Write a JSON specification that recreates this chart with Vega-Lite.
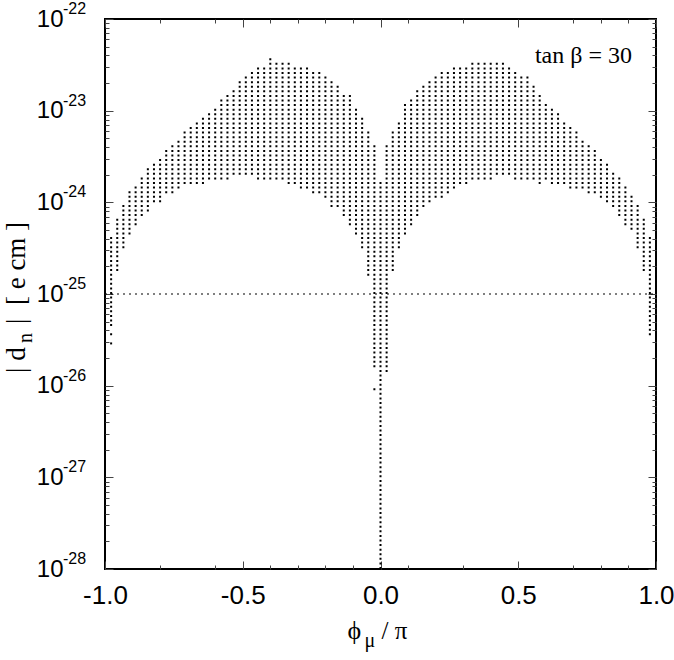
{
  "$schema": "https://vega.github.io/schema/vega-lite/v6.json",
  "width": 551,
  "height": 550,
  "autosize": "none",
  "padding": {"left": 105, "top": 19, "right": 18, "bottom": 91},
  "background": "white",
  "config": {
    "view": {"stroke": "black", "strokeWidth": 2},
    "axis": {"grid": false, "domain": false, "tickColor": "#444", "tickWidth": 1, "labelColor": "black"}
  },
  "datasets": {
    "cols": [
      {"x": -0.977778, "lo": 4.46684e-26, "hi": 3.98107e-25},
      {"x": -0.977778, "lo": 3.54813e-26, "hi": 3.54813e-26},
      {"x": -0.977778, "lo": 2.81838e-26, "hi": 2.81838e-26},
      {"x": -0.955556, "lo": 1.77828e-25, "hi": 6.30957e-25},
      {"x": -0.933333, "lo": 3.16228e-25, "hi": 8.91251e-25},
      {"x": -0.911111, "lo": 4.46684e-25, "hi": 1.25893e-24},
      {"x": -0.888889, "lo": 5.62341e-25, "hi": 1.41254e-24},
      {"x": -0.866667, "lo": 7.07946e-25, "hi": 1.77828e-24},
      {"x": -0.844444, "lo": 7.94328e-25, "hi": 2.23872e-24},
      {"x": -0.822222, "lo": 1e-24, "hi": 2.51189e-24},
      {"x": -0.8, "lo": 1e-24, "hi": 2.81838e-24},
      {"x": -0.777778, "lo": 1.25893e-24, "hi": 3.54813e-24},
      {"x": -0.755556, "lo": 1.25893e-24, "hi": 3.98107e-24},
      {"x": -0.733333, "lo": 1.41254e-24, "hi": 4.46684e-24},
      {"x": -0.711111, "lo": 1.58489e-24, "hi": 5.62341e-24},
      {"x": -0.688889, "lo": 1.58489e-24, "hi": 6.30957e-24},
      {"x": -0.666667, "lo": 1.58489e-24, "hi": 7.07946e-24},
      {"x": -0.644444, "lo": 1.58489e-24, "hi": 7.94328e-24},
      {"x": -0.622222, "lo": 1.77828e-24, "hi": 8.91251e-24},
      {"x": -0.6, "lo": 1.77828e-24, "hi": 1e-23},
      {"x": -0.577778, "lo": 1.77828e-24, "hi": 1.25893e-23},
      {"x": -0.555556, "lo": 1.77828e-24, "hi": 1.41254e-23},
      {"x": -0.533333, "lo": 1.99526e-24, "hi": 1.58489e-23},
      {"x": -0.511111, "lo": 1.99526e-24, "hi": 1.99526e-23},
      {"x": -0.488889, "lo": 1.99526e-24, "hi": 2.23872e-23},
      {"x": -0.466667, "lo": 1.99526e-24, "hi": 2.51189e-23},
      {"x": -0.444444, "lo": 1.77828e-24, "hi": 2.81838e-23},
      {"x": -0.422222, "lo": 1.77828e-24, "hi": 2.81838e-23},
      {"x": -0.4, "lo": 1.77828e-24, "hi": 3.54813e-23},
      {"x": -0.377778, "lo": 1.77828e-24, "hi": 3.16228e-23},
      {"x": -0.355556, "lo": 1.77828e-24, "hi": 3.16228e-23},
      {"x": -0.333333, "lo": 1.58489e-24, "hi": 3.16228e-23},
      {"x": -0.311111, "lo": 1.58489e-24, "hi": 2.81838e-23},
      {"x": -0.288889, "lo": 1.41254e-24, "hi": 2.81838e-23},
      {"x": -0.266667, "lo": 1.41254e-24, "hi": 2.81838e-23},
      {"x": -0.244444, "lo": 1.25893e-24, "hi": 2.51189e-23},
      {"x": -0.222222, "lo": 1.25893e-24, "hi": 2.51189e-23},
      {"x": -0.2, "lo": 1.12202e-24, "hi": 2.23872e-23},
      {"x": -0.177778, "lo": 8.91251e-25, "hi": 1.99526e-23},
      {"x": -0.155556, "lo": 8.91251e-25, "hi": 1.77828e-23},
      {"x": -0.133333, "lo": 7.07946e-25, "hi": 1.41254e-23},
      {"x": -0.111111, "lo": 5.62341e-25, "hi": 1.41254e-23},
      {"x": -0.088889, "lo": 4.46684e-25, "hi": 1e-23},
      {"x": -0.066667, "lo": 3.16228e-25, "hi": 7.94328e-24},
      {"x": -0.044444, "lo": 1.58489e-25, "hi": 5.62341e-24},
      {"x": -0.022222, "lo": 1.58489e-26, "hi": 3.98107e-24},
      {"x": -0.022222, "lo": 8.91251e-27, "hi": 8.91251e-27},
      {"x": 0, "lo": 1e-28, "hi": 1.58489e-24},
      {"x": 0.022222, "lo": 1.41254e-26, "hi": 3.98107e-24},
      {"x": 0.044444, "lo": 1.77828e-25, "hi": 5.62341e-24},
      {"x": 0.066667, "lo": 3.16228e-25, "hi": 7.07946e-24},
      {"x": 0.088889, "lo": 4.46684e-25, "hi": 1.12202e-23},
      {"x": 0.111111, "lo": 5.62341e-25, "hi": 1.25893e-23},
      {"x": 0.133333, "lo": 7.07946e-25, "hi": 1.58489e-23},
      {"x": 0.155556, "lo": 8.91251e-25, "hi": 1.77828e-23},
      {"x": 0.177778, "lo": 1e-24, "hi": 1.99526e-23},
      {"x": 0.2, "lo": 1.12202e-24, "hi": 2.23872e-23},
      {"x": 0.222222, "lo": 1.12202e-24, "hi": 2.51189e-23},
      {"x": 0.244444, "lo": 1.25893e-24, "hi": 2.51189e-23},
      {"x": 0.266667, "lo": 1.41254e-24, "hi": 2.81838e-23},
      {"x": 0.288889, "lo": 1.58489e-24, "hi": 2.81838e-23},
      {"x": 0.311111, "lo": 1.58489e-24, "hi": 2.81838e-23},
      {"x": 0.333333, "lo": 1.77828e-24, "hi": 3.16228e-23},
      {"x": 0.355556, "lo": 1.77828e-24, "hi": 3.16228e-23},
      {"x": 0.377778, "lo": 1.77828e-24, "hi": 3.16228e-23},
      {"x": 0.4, "lo": 1.77828e-24, "hi": 3.16228e-23},
      {"x": 0.422222, "lo": 1.99526e-24, "hi": 3.16228e-23},
      {"x": 0.444444, "lo": 1.99526e-24, "hi": 3.16228e-23},
      {"x": 0.466667, "lo": 1.99526e-24, "hi": 2.81838e-23},
      {"x": 0.488889, "lo": 1.77828e-24, "hi": 2.51189e-23},
      {"x": 0.511111, "lo": 1.77828e-24, "hi": 2.23872e-23},
      {"x": 0.533333, "lo": 1.77828e-24, "hi": 2.23872e-23},
      {"x": 0.555556, "lo": 1.77828e-24, "hi": 1.77828e-23},
      {"x": 0.577778, "lo": 1.58489e-24, "hi": 1.41254e-23},
      {"x": 0.6, "lo": 1.77828e-24, "hi": 1.12202e-23},
      {"x": 0.622222, "lo": 1.58489e-24, "hi": 1e-23},
      {"x": 0.644444, "lo": 1.58489e-24, "hi": 8.91251e-24},
      {"x": 0.666667, "lo": 1.58489e-24, "hi": 7.07946e-24},
      {"x": 0.688889, "lo": 1.41254e-24, "hi": 6.30957e-24},
      {"x": 0.711111, "lo": 1.41254e-24, "hi": 5.62341e-24},
      {"x": 0.733333, "lo": 1.41254e-24, "hi": 4.46684e-24},
      {"x": 0.755556, "lo": 1.25893e-24, "hi": 3.98107e-24},
      {"x": 0.777778, "lo": 1.25893e-24, "hi": 3.54813e-24},
      {"x": 0.8, "lo": 1.12202e-24, "hi": 2.81838e-24},
      {"x": 0.822222, "lo": 1e-24, "hi": 2.51189e-24},
      {"x": 0.844444, "lo": 8.91251e-25, "hi": 1.99526e-24},
      {"x": 0.866667, "lo": 7.07946e-25, "hi": 1.77828e-24},
      {"x": 0.888889, "lo": 5.62341e-25, "hi": 1.41254e-24},
      {"x": 0.911111, "lo": 5.01187e-25, "hi": 1.12202e-24},
      {"x": 0.933333, "lo": 3.16228e-25, "hi": 8.91251e-25},
      {"x": 0.955556, "lo": 1.77828e-25, "hi": 6.30957e-25},
      {"x": 0.977778, "lo": 3.54813e-26, "hi": 3.98107e-25}
    ],
    "exps": [
      {"e": "-22", "v": 1e-22},
      {"e": "-23", "v": 1e-23},
      {"e": "-24", "v": 1e-24},
      {"e": "-25", "v": 1e-25},
      {"e": "-26", "v": 1e-26},
      {"e": "-27", "v": 1e-27},
      {"e": "-28", "v": 1e-28}
    ]
  },
  "layer": [
    {
      "data": {"name": "cols"},
      "mark": {"type": "rule", "color": "black", "strokeWidth": 2, "strokeDash": [2, 2.58333], "strokeCap": "butt", "y2Offset": -2.3},
      "encoding": {
        "x": {
          "field": "x", "type": "quantitative",
          "scale": {"domain": [-1, 1], "nice": false, "zero": false},
          "axis": {"orient": "bottom", "title": null, "values": [-1, -0.5, 0, 0.5, 1],
            "labelExpr": "datum.value < 0 ? '-' + format(-datum.value, '.1f') : format(datum.value, '.1f')",
            "tickSize": -8, "labelPadding": 21, "labelFont": "Liberation Sans", "labelFontSize": 26,
            "labelFlush": false, "labelOverlap": false}
        },
        "y": {
          "field": "lo", "type": "quantitative",
          "scale": {"type": "log", "domain": [1e-28, 1e-22], "nice": false},
          "axis": {"orient": "left", "title": null, "values": [1e-28, 1e-27, 1e-26, 1e-25, 1e-24, 1e-23, 1e-22],
            "labelExpr": "'10'", "tickSize": -8, "labelPadding": 50, "labelFont": "Liberation Sans", "labelFontSize": 24,
            "labelFlush": false, "labelOverlap": false, "labelBaseline": "middle"}
        },
        "y2": {"field": "hi"}
      }
    },
    {
      "data": {"values": [{}]},
      "mark": {"type": "rule", "color": "black", "strokeWidth": 1.2, "strokeDash": [2, 4]},
      "encoding": {
        "x": {"datum": -1, "type": "quantitative",
          "axis": {"orient": "bottom", "title": null, "labels": false, "tickSize": -4,
            "values": [-0.8, -0.6, -0.4, -0.3, -0.2, -0.1, 0.1, 0.3, 0.7, 0.8, 0.9]}},
        "x2": {"datum": 1},
        "y": {"datum": 1e-25, "type": "quantitative",
          "axis": {"orient": "left", "title": null, "labels": false, "tickSize": -4,
            "values": [2e-28, 3e-28, 4e-28, 5e-28, 6e-28, 7e-28, 8e-28, 9e-28, 2e-27, 3e-27, 4e-27, 5e-27, 6e-27, 7e-27, 8e-27, 9e-27, 2e-26, 3e-26, 4e-26, 5e-26, 6e-26, 7e-26, 8e-26, 9e-26, 2e-25, 3e-25, 4e-25, 5e-25, 6e-25, 7e-25, 8e-25, 9e-25, 2e-24, 3e-24, 4e-24, 5e-24, 6e-24, 7e-24, 8e-24, 9e-24, 2e-23, 3e-23, 4e-23, 5e-23, 6e-23, 7e-23, 8e-23, 9e-23]}}
      }
    },
    {
      "data": {"values": [{"t": "tan β = 30"}]},
      "mark": {"type": "text", "align": "right", "baseline": "alphabetic", "font": "Liberation Serif", "fontSize": 24, "color": "black", "dx": -24, "dy": 44},
      "encoding": {
        "text": {"field": "t"},
        "x": {"datum": 1, "type": "quantitative",
          "axis": {"orient": "top", "title": null, "labels": false, "tickSize": -8, "values": [-1, -0.5, 0, 0.5, 1]}},
        "y": {"datum": 1e-22, "type": "quantitative",
          "axis": {"orient": "right", "title": null, "labels": false, "tickSize": -8, "values": [1e-28, 1e-27, 1e-26, 1e-25, 1e-24, 1e-23, 1e-22]}}
      }
    },
    {
      "data": {"name": "exps"},
      "mark": {"type": "text", "align": "left", "baseline": "alphabetic", "font": "Liberation Sans", "fontSize": 16, "color": "black", "dx": -42, "dy": -5},
      "encoding": {
        "text": {"field": "e"},
        "x": {"datum": -1, "type": "quantitative",
          "axis": {"orient": "top", "title": null, "labels": false, "tickSize": -4,
            "values": [-0.8, -0.6, -0.4, -0.3, -0.2, -0.1, 0.1, 0.3, 0.7, 0.8, 0.9]}},
        "y": {"field": "v", "type": "quantitative",
          "axis": {"orient": "right", "title": null, "labels": false, "tickSize": -4,
            "values": [2e-28, 3e-28, 4e-28, 5e-28, 6e-28, 7e-28, 8e-28, 9e-28, 2e-27, 3e-27, 4e-27, 5e-27, 6e-27, 7e-27, 8e-27, 9e-27, 2e-26, 3e-26, 4e-26, 5e-26, 6e-26, 7e-26, 8e-26, 9e-26, 2e-25, 3e-25, 4e-25, 5e-25, 6e-25, 7e-25, 8e-25, 9e-25, 2e-24, 3e-24, 4e-24, 5e-24, 6e-24, 7e-24, 8e-24, 9e-24, 2e-23, 3e-23, 4e-23, 5e-23, 6e-23, 7e-23, 8e-23, 9e-23]}}
      }
    },
    {
      "data": {"values": [{"t": "ϕ"}]},
      "mark": {"type": "text", "align": "left", "baseline": "alphabetic", "font": "Liberation Serif", "fontSize": 26, "color": "black", "dx": -33, "dy": 70},
      "encoding": {"text": {"field": "t"}, "x": {"datum": 0, "type": "quantitative", "axis": null}, "y": {"datum": 1e-28, "type": "quantitative", "axis": null}}
    },
    {
      "data": {"values": [{"t": "μ"}]},
      "mark": {"type": "text", "align": "left", "baseline": "alphabetic", "font": "Liberation Serif", "fontSize": 20, "color": "black", "dx": -16, "dy": 78},
      "encoding": {"text": {"field": "t"}, "x": {"datum": 0, "type": "quantitative", "axis": null}, "y": {"datum": 1e-28, "type": "quantitative", "axis": null}}
    },
    {
      "data": {"values": [{"t": "/ π"}]},
      "mark": {"type": "text", "align": "left", "baseline": "alphabetic", "font": "Liberation Serif", "fontSize": 25, "color": "black", "dx": 1, "dy": 70},
      "encoding": {"text": {"field": "t"}, "x": {"datum": 0, "type": "quantitative", "axis": null}, "y": {"datum": 1e-28, "type": "quantitative", "axis": null}}
    },
    {
      "data": {"values": [{"t": "| d"}]},
      "mark": {"type": "text", "align": "left", "baseline": "alphabetic", "angle": 270, "font": "Liberation Serif", "fontSize": 27, "color": "black", "dx": -79, "dy": -80},
      "encoding": {"text": {"field": "t"}, "x": {"datum": -1, "type": "quantitative", "axis": null}, "y": {"datum": 1e-25, "type": "quantitative", "axis": null}}
    },
    {
      "data": {"values": [{"t": "n"}]},
      "mark": {"type": "text", "align": "left", "baseline": "alphabetic", "angle": 270, "font": "Liberation Serif", "fontSize": 20, "color": "black", "dx": -49, "dy": -73},
      "encoding": {"text": {"field": "t"}, "x": {"datum": -1, "type": "quantitative", "axis": null}, "y": {"datum": 1e-25, "type": "quantitative", "axis": null}}
    },
    {
      "data": {"values": [{"t": "|\u00a0\u00a0[ e cm ]"}]},
      "mark": {"type": "text", "align": "left", "baseline": "alphabetic", "angle": 270, "font": "Liberation Serif", "fontSize": 27, "color": "black", "dx": -30, "dy": -80},
      "encoding": {"text": {"field": "t"}, "x": {"datum": -1, "type": "quantitative", "axis": null}, "y": {"datum": 1e-25, "type": "quantitative", "axis": null}}
    }
  ],
  "resolve": {"axis": {"x": "independent", "y": "independent"}}
}
